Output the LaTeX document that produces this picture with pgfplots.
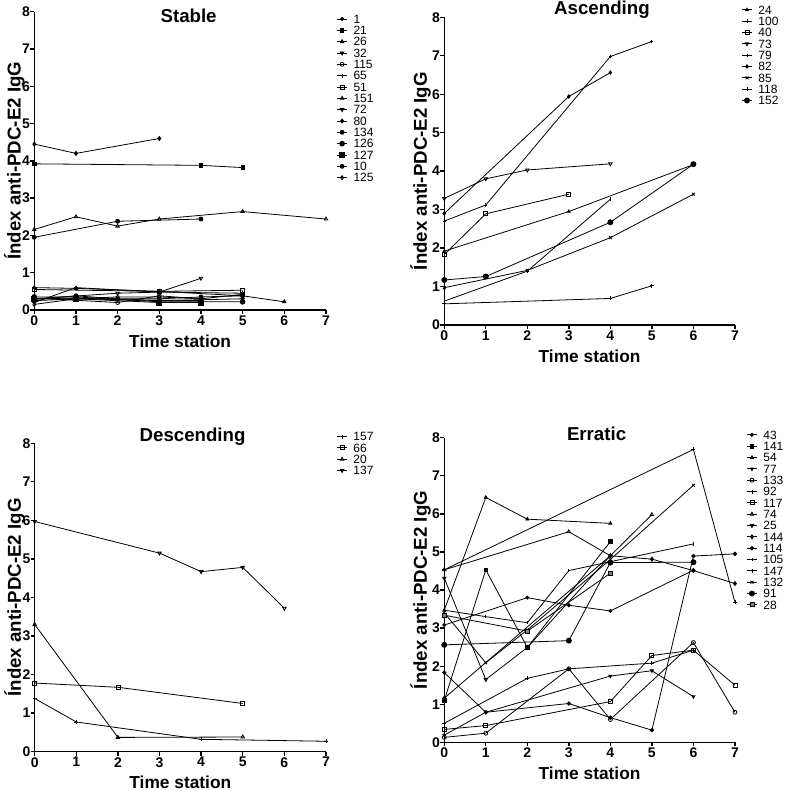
\documentclass[border=0pt]{standalone}
\usepackage{fontspec}
\setmainfont{Liberation Sans}
\usepackage{pgfplots}
\pgfplotsset{compat=1.18}
\pgfplotsset{
 panel/.style={
  scale only axis, xmin=0,xmax=7,ymin=0,ymax=8,
  axis lines*=left, axis line style={-,line width=1pt},
  xtick={0,...,7}, ytick={0,...,8},
  tick align=outside, major tick length=3pt,
  every tick/.style={black,line width=1pt},
  /pgf/number format/assume math mode=true,
  ticklabel style={font=\bfseries\fontsize{10.5}{12}\selectfont},
  xticklabel style={inner sep=1pt},
  yticklabel style={inner sep=0pt},
  clip=false,
  xlabel={Time station}, ylabel={Índex anti-PDC-E2 IgG},
  xlabel style={font=\bfseries\fontsize{13}{15}\selectfont, at={(axis description cs:0.5,0)}, anchor=base, yshift=-27.8pt},
  ylabel style={font=\bfseries\fontsize{14}{16}\selectfont, anchor=base},
  every axis title shift=0pt,
  title style={font=\bfseries\fontsize{14}{16}\selectfont, anchor=base},
  legend cell align=left,
  legend style={draw=none, fill=none, inner sep=0pt, outer sep=0pt, anchor=north west,
    font=\fontsize{9}{9}\selectfont, row sep=2.1pt,
    nodes={inner sep=0pt, text height=6.4pt, text depth=0pt},
    /tikz/every odd column/.append style={column sep=4.5pt}},
  legend image code/.code={\draw[mark repeat=2,mark phase=2] plot coordinates {(0pt,0pt)(3.75pt,0pt)(7.5pt,0pt)};},
  every axis plot/.append style={black, line width=0.6pt, mark size=1.5pt, mark options={solid}},
 },
 dn/.style={mark options={rotate=180}},
}
\begin{document}
\begin{tikzpicture}
\useasboundingbox (0,0) rectangle (589.5pt,593.25pt);
% ---------------- Stable
\begin{axis}[panel, at={(25.7pt,360.75pt)}, anchor=south west, width=218.8pt, height=223.7pt,
  title={Stable}, title style={at={(axis description cs:0.529,0.963)}},
  ylabel style={at={(axis description cs:-0.047,0.5)}},
  legend style={at={(axis description cs:1.0367,0.990)}}]
\addplot[mark=*, mark size=1.2pt] coordinates {(0,0.3)(1,0.32)(3,0.25)(5,0.3)};
\addlegendentry{1}
\addplot[mark=square*, mark size=1.3pt] coordinates {(0,3.92)(4,3.88)(5,3.82)};
\addlegendentry{21}
\addplot[mark=triangle*] coordinates {(0,0.6)(1,0.58)(3,0.5)(5,0.38)(6,0.22)};
\addlegendentry{26}
\addplot[mark=triangle*, dn] coordinates {(0,0.25)(1,0.3)(2,0.28)(4,0.25)};
\addlegendentry{32}
\addplot[mark=o] coordinates {(0,0.32)(2,0.2)(3,0.38)(4,0.3)(5,0.42)};
\addlegendentry{115}
\addplot[mark=+] coordinates {(0,0.2)(1,0.6)(3,0.48)(5,0.45)};
\addlegendentry{65}
\addplot[mark=square] coordinates {(0,0.55)(3,0.5)(5,0.53)};
\addlegendentry{51}
\addplot[mark=triangle] coordinates {(0,2.16)(1,2.5)(2,2.25)(3,2.44)(5,2.64)(7,2.44)};
\addlegendentry{151}
\addplot[mark=triangle, dn] coordinates {(0,0.3)(2,0.45)(3,0.48)(4,0.85)};
\addlegendentry{72}
\addplot[mark=diamond*] coordinates {(0,4.45)(1,4.2)(3,4.6)};
\addlegendentry{80}
\addplot[mark=*] coordinates {(0,1.95)(2,2.38)(4,2.44)};
\addlegendentry{134}
\addplot[mark=*, mark size=1.8pt] coordinates {(0,0.35)(1,0.35)(3,0.22)(4,0.22)(5,0.22)};
\addlegendentry{126}
\addplot[mark=square*, mark size=1.8pt] coordinates {(0,0.3)(1,0.3)(3,0.2)(4,0.2)};
\addlegendentry{127}
\addplot[mark=*] coordinates {(0,0.28)(1,0.38)(2,0.3)(3,0.3)(4,0.35)(5,0.38)};
\addlegendentry{10}
\addplot[mark=diamond] coordinates {(0,0.15)(1,0.3)(2,0.35)(3,0.35)(4,0.3)};
\addlegendentry{125}
\end{axis}
% ---------------- Ascending
\begin{axis}[panel, at={(333.2pt,349.5pt)}, anchor=south west, width=218pt, height=230.8pt,
  title={Ascending}, title style={at={(axis description cs:0.5425,1.0075)}},
  ylabel style={at={(axis description cs:-0.06,0.5)}},
  legend style={at={(axis description cs:1.023,1.038)}}]
\addplot[mark=triangle*, mark size=1.2pt] coordinates {(0,1.92)(3,2.95)(6,4.17)};
\addlegendentry{24}
\addplot[mark=+] coordinates {(0,0.55)(4,0.69)(5,1.02)};
\addlegendentry{100}
\addplot[mark=square] coordinates {(0,1.83)(1,2.89)(3,3.40)};
\addlegendentry{40}
\addplot[mark=triangle, dn] coordinates {(0,3.29)(1,3.80)(2,4.03)(4,4.19)};
\addlegendentry{73}
\addplot[mark=+, mark size=1.2pt] coordinates {(0,2.7)(1,3.12)(4,6.98)(5,7.37)};
\addlegendentry{79}
\addplot[mark=diamond*, mark size=1.3pt] coordinates {(0,2.9)(3,5.94)(4,6.56)};
\addlegendentry{82}
\addplot[mark=x] coordinates {(0,0.97)(2,1.42)(4,2.27)(6,3.40)};
\addlegendentry{85}
\addplot[mark=|] coordinates {(0,0.62)(2,1.40)(4,3.27)};
\addlegendentry{118}
\addplot[mark=*, mark size=1.9pt] coordinates {(0,1.17)(1,1.26)(4,2.67)(6,4.18)};
\addlegendentry{152}
\end{axis}
% ---------------- Descending
\begin{axis}[panel, at={(26pt,29.5pt)}, anchor=south west, width=218.5pt, height=231.3pt,
  title={Descending}, title style={at={(axis description cs:0.542,1.005)}},
  ylabel style={at={(axis description cs:-0.047,0.5)}},
  legend style={at={(axis description cs:1.0367,1.0357)}}]
\addplot[mark=+] coordinates {(0,1.38)(1,0.77)(4,0.32)(7,0.27)};
\addlegendentry{157}
\addplot[mark=square] coordinates {(0,1.78)(2,1.67)(5,1.25)};
\addlegendentry{66}
\addplot[mark=triangle] coordinates {(0,3.30)(2,0.37)(5,0.38)};
\addlegendentry{20}
\addplot[mark=triangle, dn] coordinates {(0,5.97)(3,5.15)(4,4.67)(5,4.78)(6,3.72)};
\addlegendentry{137}
\end{axis}
% ---------------- Erratic
\begin{axis}[panel, at={(333.2pt,36.5pt)}, anchor=south west, width=218pt, height=228.5pt,
  title={Erratic}, title style={at={(axis description cs:0.524,0.992)}},
  ylabel style={at={(axis description cs:-0.06,0.5)}},
  legend style={at={(axis description cs:1.040,1.0233)}}]
\addplot[mark=*, mark size=1.2pt] coordinates {(0,3.08)(2,3.8)(3,3.6)(4,3.45)(6,4.52)};
\addlegendentry{43}
\addplot[mark=square*, mark size=1.4pt] coordinates {(0,1.1)(1,4.53)(2,2.49)(4,5.27)};
\addlegendentry{141}
\addplot[mark=triangle*, mark size=1.3pt] coordinates {(0,3.47)(1,6.43)(2,5.86)(4,5.75)};
\addlegendentry{54}
\addplot[mark=triangle*, dn, mark size=1.3pt] coordinates {(0,0.19)(1,0.79)(4,1.74)(5,1.88)(6,1.2)};
\addlegendentry{77}
\addplot[mark=o] coordinates {(0,0.13)(1,0.24)(3,1.93)(4,0.6)(6,2.62)(7,0.79)};
\addlegendentry{133}
\addplot[mark=+] coordinates {(0,0.5)(2,1.68)(3,1.93)(5,2.08)(6,2.42)};
\addlegendentry{92}
\addplot[mark=square] coordinates {(0,0.34)(1,0.44)(4,1.07)(5,2.28)(6,2.42)(7,1.5)};
\addlegendentry{117}
\addplot[mark=triangle] coordinates {(0,4.53)(3,5.53)(4,4.9)(5,5.98)};
\addlegendentry{74}
\addplot[mark=triangle, dn] coordinates {(0,4.31)(1,1.65)(2,2.49)(4,4.9)};
\addlegendentry{25}
\addplot[mark=diamond*] coordinates {(0,1.16)(4,4.9)(5,4.81)(6,4.51)(7,4.17)};
\addlegendentry{144}
\addplot[mark=*, mark size=1.3pt] coordinates {(0,1.83)(1,0.79)(3,1.02)(4,0.65)(5,0.32)(6,4.89)(7,4.95)};
\addlegendentry{114}
\addplot[mark=|, mark size=1.2pt] coordinates {(0,3.47)(1,3.3)(2,3.14)(3,4.51)(6,5.21)};
\addlegendentry{105}
\addplot[mark=+] coordinates {(0,4.53)(6,7.69)(7,3.68)};
\addlegendentry{147}
\addplot[mark=x] coordinates {(0,3.4)(1,2.09)(2,2.95)(4,4.8)(6,6.75)};
\addlegendentry{132}
\addplot[mark=*, mark size=1.9pt] coordinates {(0,2.56)(3,2.67)(4,4.72)(6,4.73)};
\addlegendentry{91}
\addplot[mark=square*, mark options={fill=gray}] coordinates {(0,3.34)(2,2.92)(4,4.44)};
\addlegendentry{28}
\end{axis}
\end{tikzpicture}
\end{document}
